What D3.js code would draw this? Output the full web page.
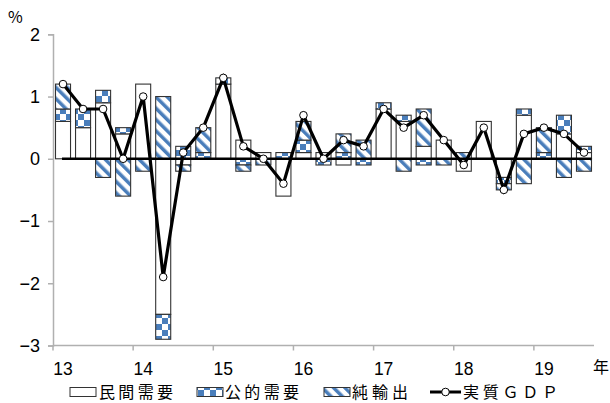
<!DOCTYPE html>
<html><head><meta charset="utf-8">
<script src="https://cdn.jsdelivr.net/npm/d3@7"></script>
<style>
html,body{margin:0;padding:0;background:#fff;}
svg{display:block;}
.num{font-family:"Liberation Sans Narrow","Liberation Sans",Arial,sans-serif;}
.jp{font-family:"Noto Sans CJK JP",sans-serif;}
</style></head>
<body>
<svg id="chart" width="610" height="403"></svg>
<script>
// ---- data ----
const quarters = ["2013Q1","2013Q2","2013Q3","2013Q4","2014Q1","2014Q2","2014Q3","2014Q4",
  "2015Q1","2015Q2","2015Q3","2015Q4","2016Q1","2016Q2","2016Q3","2016Q4",
  "2017Q1","2017Q2","2017Q3","2017Q4","2018Q1","2018Q2","2018Q3","2018Q4",
  "2019Q1","2019Q2","2019Q3"];
const yearLabels = ["13","14","15","16","17","18","19"];
const privateDemand = [0.6,0.5,0.9,0.4,1.2,-2.5,-0.1,0.0,1.2,0.3,0.1,-0.6,0.1,0.1,-0.1,0.0,0.8,0.6,0.2,0.3,-0.2,0.6,-0.3,0.7,0.0,0.4,0.1];
const publicDemand  = [0.2,0.3,0.2,0.1,0.0,-0.4,0.2,0.1,0.1,-0.1,0.0,0.1,0.2,-0.1,0.1,-0.1,0.1,0.1,-0.1,0.0,0.0,0.0,-0.1,0.1,0.1,0.3,0.1];
const netExports    = [0.4,0.0,-0.3,-0.6,-0.2,1.0,-0.1,0.4,0.0,-0.1,-0.1,0.0,0.3,0.0,0.3,0.3,0.0,-0.2,0.6,-0.1,0.1,0.0,-0.1,-0.4,0.4,-0.3,-0.2];
const realGDP       = [1.2,0.8,0.8,0.0,1.0,-1.9,0.1,0.5,1.3,0.2,0.0,-0.4,0.7,0.0,0.3,0.2,0.8,0.5,0.7,0.3,-0.1,0.5,-0.5,0.4,0.5,0.4,0.1];
const yTicks = [-3,-2,-1,0,1,2];
const seriesNames = ["民間需要","公的需要","純輸出","実質ＧＤＰ"];

(function(){
const svg = d3.select("#chart");
const blue = "#4a7ebb";
const defs = svg.append("defs");
const chk = defs.append("pattern").attr("id","chk").attr("patternUnits","userSpaceOnUse")
  .attr("width",12).attr("height",12).attr("x",0).attr("y",0);
chk.append("rect").attr("width",12).attr("height",12).attr("fill","#fff");
chk.append("rect").attr("width",6).attr("height",6).attr("fill",blue);
chk.append("rect").attr("x",6).attr("y",6).attr("width",6).attr("height",6).attr("fill",blue);
const str = defs.append("pattern").attr("id","str").attr("patternUnits","userSpaceOnUse")
  .attr("width",8).attr("height",8).attr("patternTransform","rotate(-45)");
str.append("rect").attr("width",8).attr("height",8).attr("fill","#fff");
str.append("rect").attr("width",3.5).attr("height",8).attr("fill",blue);

const mL = 53, mR = 594, mT = 34.3, mB = 345.5;
const x = d3.scaleBand().domain(quarters).range([mL,mR]).paddingInner(0.25).paddingOuter(0.125);
const y = d3.scaleLinear().domain([-3,2]).range([mB,mT]);

const fmt = d => d < 0 ? "\u2212" + Math.abs(d) : String(d);
const yAxis = svg.append("g").attr("transform",`translate(${mL},0)`)
  .call(d3.axisLeft(y).tickValues(yTicks).tickSize(5).tickPadding(8).tickFormat(fmt));
yAxis.select(".domain").attr("stroke","#b0b0b0").attr("stroke-width",1.5);
yAxis.selectAll(".tick line").attr("stroke","#b0b0b0").attr("stroke-width",1.5);
yAxis.selectAll(".tick text").attr("class","num").attr("font-size",18).attr("fill","#000");

const step = x.step();
const yearIdx = yearLabels.map((l,i)=>i*4);
const xg = svg.append("g");
xg.append("line").attr("x1",mL).attr("x2",mR).attr("y1",mB).attr("y2",mB)
  .attr("stroke","#b0b0b0").attr("stroke-width",1.5);
xg.selectAll("line.tk").data(yearIdx).join("line").attr("class","tk")
  .attr("x1",d=>x(quarters[d]) - step*x.paddingOuter()).attr("x2",d=>x(quarters[d]) - step*x.paddingOuter())
  .attr("y1",mB).attr("y2",mB+5).attr("stroke","#b0b0b0").attr("stroke-width",1.5);
xg.selectAll("text").data(yearLabels).join("text").attr("class","num")
  .attr("x",(d,i)=>x(quarters[i*4]) + x.bandwidth()/2).attr("y",375)
  .attr("text-anchor","middle").attr("font-size",17.5).text(d=>d);
svg.append("text").attr("class","jp").attr("x",593).attr("y",373).attr("font-size",16).text("年");
svg.append("text").attr("class","jp").attr("x",8).attr("y",23).attr("font-size",16).text("%");

const rows = quarters.map((q,i)=>({q, p:privateDemand[i], g:publicDemand[i], n:netExports[i]}));
const stack = d3.stack().keys(["p","g","n"]).offset(d3.stackOffsetDiverging)(rows);
const fills = {p:"#fff", g:"url(#chk)", n:"url(#str)"};
stack.forEach(layer=>{
  svg.append("g").selectAll("rect").data(layer.filter(d=>Math.abs(d[1]-d[0]) > 1e-9)).join("rect")
    .attr("x",d=>x(d.data.q)).attr("width",x.bandwidth())
    .attr("y",d=>y(Math.max(d[0],d[1]))).attr("height",d=>Math.abs(y(d[0])-y(d[1])))
    .attr("fill",fills[layer.key]).attr("stroke","#333").attr("stroke-width",1.1);
});

svg.append("line").attr("x1",x(quarters[0])+x.bandwidth()/2 - 1).attr("x2",x(quarters[quarters.length-1])+x.bandwidth())
  .attr("y1",y(0)).attr("y2",y(0)).attr("stroke","#000").attr("stroke-width",2.5);

const line = d3.line().x((d,i)=>x(quarters[i])+x.bandwidth()/2).y(d=>y(d));
svg.append("path").datum(realGDP).attr("d",line).attr("fill","none").attr("stroke","#000")
  .attr("stroke-width",3.2).attr("stroke-linejoin","miter");
svg.append("g").selectAll("circle").data(realGDP).join("circle")
  .attr("cx",(d,i)=>x(quarters[i])+x.bandwidth()/2).attr("cy",d=>y(d)).attr("r",3.8)
  .attr("fill","#fff").attr("stroke","#000").attr("stroke-width",1);

const lg = svg.append("g");
const ly = 392;
const fs = 16;
const tb = 398;
lg.append("rect").attr("x",70).attr("y",ly-4.5).attr("width",26).attr("height",9).attr("fill","#fff").attr("stroke","#333");
lg.append("text").attr("class","jp").attr("x",99).attr("y",tb).attr("font-size",fs).attr("textLength",74).attr("lengthAdjust","spacing").text(seriesNames[0]);
lg.append("rect").attr("x",197).attr("y",ly-4.5).attr("width",26).attr("height",9).attr("fill","url(#chk)").attr("stroke","#333");
lg.append("text").attr("class","jp").attr("x",225).attr("y",tb).attr("font-size",fs).attr("textLength",74).attr("lengthAdjust","spacing").text(seriesNames[1]);
lg.append("rect").attr("x",324).attr("y",ly-4.5).attr("width",26).attr("height",9).attr("fill","url(#str)").attr("stroke","#333");
lg.append("text").attr("class","jp").attr("x",352).attr("y",tb).attr("font-size",fs).attr("textLength",56).attr("lengthAdjust","spacing").text(seriesNames[2]);
lg.append("line").attr("x1",430).attr("x2",461).attr("y1",ly).attr("y2",ly).attr("stroke","#000").attr("stroke-width",3);
lg.append("circle").attr("cx",445.5).attr("cy",ly).attr("r",3.8).attr("fill","#fff").attr("stroke","#000");
lg.append("text").attr("class","jp").attr("x",463).attr("y",tb).attr("font-size",fs).attr("textLength",95).attr("lengthAdjust","spacing").text(seriesNames[3]);
})();
</script>
</body></html>
